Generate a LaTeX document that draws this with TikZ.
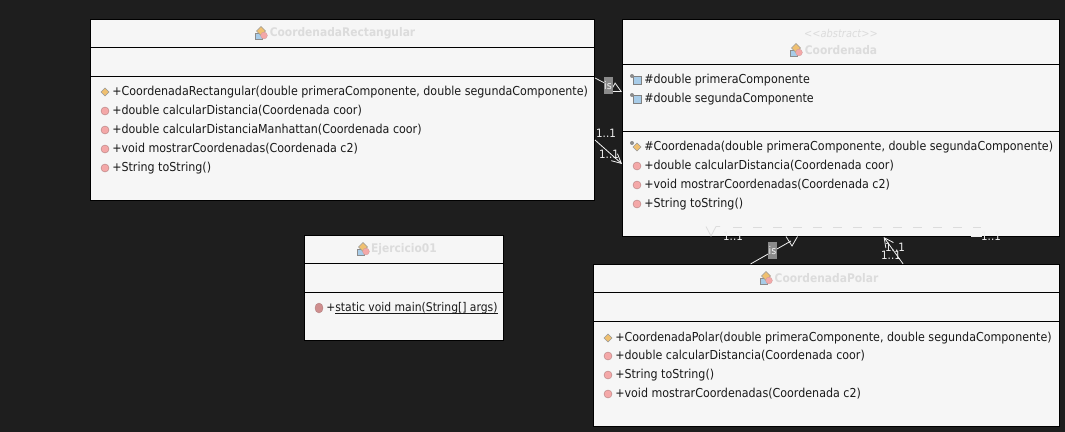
\documentclass[tikz,border=0pt]{standalone}
\usepackage{fontspec}
\usetikzlibrary{arrows.meta,calc}
\setmainfont[FakeStretch=0.9]{DejaVu Sans}
\definecolor{bgdark}{HTML}{1E1E1E}
\definecolor{boxfill}{HTML}{F6F6F6}
\definecolor{titlegrey}{HTML}{DCDCDC}
\definecolor{isgrey}{HTML}{8A8A8A}
\definecolor{linewhite}{HTML}{F0F0F0}
\definecolor{icoorange}{HTML}{F0C070}
\definecolor{icopink}{HTML}{F4A8A8}
\definecolor{icoblue}{HTML}{A8CCE8}
\newcommand{\classicon}[1]{%
  \fill[icoblue,draw=black!45,line width=.3pt] ($(#1)+(-6,0)$) rectangle ($(#1)+(1,6)$);
  \fill[icoorange,draw=black!40,line width=.3pt] ($(#1)+(-4.5,-2)$) -- ($(#1)+(0,-6.5)$) -- ($(#1)+(4.5,-2)$) -- ($(#1)+(0,2.5)$) -- cycle;
  \fill[icopink,draw=red!50!black!40,line width=.2pt] ($(#1)+(3,2.5)$) circle[radius=3.4];
}
\newcommand{\methodicon}[1]{\fill[icopink,draw=red!40!black!50,line width=.3pt] (#1) circle[radius=4];}
\newcommand{\ctoricon}[1]{\fill[icoorange,draw=black!40,line width=.3pt] ($(#1)+(-4,0)$) -- ($(#1)+(0,-4)$) -- ($(#1)+(4,0)$) -- ($(#1)+(0,4)$) -- cycle;}
\newcommand{\fieldicon}[1]{%
  \fill[icoblue,draw=black!50,line width=.3pt] ($(#1)+(-2,-3.5)$) rectangle ($(#1)+(6,4)$);
  \fill[black!45] ($(#1)+(-3,-4)$) circle[radius=2];
}
\tikzset{
  x=0.75pt,y=-0.75pt,
  umlbox/.style 2 args={draw=black,fill=boxfill,line width=.75pt,inner sep=0pt,minimum width=#1*0.75pt,minimum height=#2*0.75pt},
  classtitle/.style={text=titlegrey,font=\bfseries\fontsize{8.9}{10}\selectfont,inner sep=0pt},
  stereo/.style={text=titlegrey,font=\itshape\fontsize{8.2}{10}\selectfont,inner sep=0pt},
  member/.style={anchor=west,inner sep=0pt,text=black!90,font=\fontsize{9.25}{11}\selectfont},
  divider/.style={draw=black,line width=.75pt},
  conn/.style={draw=linewhite,line width=.6pt},
  ghost/.style={draw=titlegrey,line width=.6pt},
  gen/.style={conn,-{Triangle[open,length=8pt,width=8pt,fill=none]}},
  assoc/.style={conn,-{Straight Barb[length=7pt,width=7pt]}},
  islabel/.style={fill=isgrey,text=linewhite,inner sep=0pt,minimum width=6.75pt,minimum height=12.75pt,font=\fontsize{8}{9}\selectfont},
  mult/.style={text=linewhite,inner sep=0pt,font=\fontsize{8.6}{10}\selectfont},
}
\begin{document}
\begin{tikzpicture}
\useasboundingbox (0,0) rectangle (1065,432);
\fill[bgdark] (0,0) rectangle (1065,432);
% boxes
\node[umlbox={504}{181}] (rect) at (342.5,110) {};
\node[umlbox={437}{217}] (coord) at (841,128) {};
\node[umlbox={466}{162}] (polar) at (826.5,345.5) {};
\node[umlbox={199}{105}] (ej) at (404,288) {};
% dividers
\draw[divider] (90.5,47.5) -- (594.5,47.5) (90.5,76.5) -- (594.5,76.5);
\draw[divider] (622.5,64.5) -- (1059.5,64.5) (622.5,131.5) -- (1059.5,131.5);
\draw[divider] (593.5,292.5) -- (1059.5,292.5) (593.5,321.5) -- (1059.5,321.5);
\draw[divider] (304.5,263.5) -- (503.5,263.5) (304.5,292.5) -- (503.5,292.5);
% titles
\classicon{261,33}
\node[classtitle] (t1) at (342.5,33) {CoordenadaRectangular};
\node[stereo] (t2s) at (841,33) {{<}{<}abstract{>}{>}};
\classicon{796,50}
\node[classtitle] (t2) at (841,50) {Coordenada};
\classicon{766,278}
\node[classtitle] (t3) at (826.5,278) {CoordenadaPolar};
\classicon{363,249}
\node[classtitle] (t4) at (404,249) {Ejercicio01};
% Rectangular members
\ctoricon{105,92}
\node[member] (r1) at (112,92) {+CoordenadaRectangular(double primeraComponente, double segundaComponente)};
\methodicon{105,111}
\node[member] (r2) at (112,111) {+double calcularDistancia(Coordenada coor)};
\methodicon{105,130}
\node[member] (r3) at (112,130) {+double calcularDistanciaManhattan(Coordenada coor)};
\methodicon{105,149}
\node[member] (r4) at (112,149) {+void mostrarCoordenadas(Coordenada c2)};
\methodicon{105,168}
\node[member] (r5) at (112,168) {+String toString()};
% Coordenada members
\fieldicon{635,80}
\node[member] (c1) at (644,80) {\#double primeraComponente};
\fieldicon{635,99}
\node[member] (c2) at (644,99) {\#double segundaComponente};
\ctoricon{637,147}
\fill[black!45] (632,143) circle[radius=2];
\node[member] (c3) at (644,147) {\#Coordenada(double primeraComponente, double segundaComponente)};
\methodicon{637,166}
\node[member] (c4) at (644,166) {+double calcularDistancia(Coordenada coor)};
\methodicon{637,185}
\node[member] (c5) at (644,185) {+void mostrarCoordenadas(Coordenada c2)};
\methodicon{637,204}
\node[member] (c6) at (644,204) {+String toString()};
% Polar members
\ctoricon{608,338}
\node[member] (p1) at (615,338) {+CoordenadaPolar(double primeraComponente, double segundaComponente)};
\methodicon{608,356}
\node[member] (p2) at (615,356) {+double calcularDistancia(Coordenada coor)};
\methodicon{608,375}
\node[member] (p3) at (615,375) {+String toString()};
\methodicon{608,394}
\node[member] (p4) at (615,394) {+void mostrarCoordenadas(Coordenada c2)};
% Ejercicio member
\fill[icopink!85!black,draw=red!40!black!50,line width=.3pt] (319,308) ellipse[x radius=4,y radius=5];
\node[member,font=\fontsize{9}{11}\selectfont] (e1) at (326,309) {+\underline{\smash{static void main(String[] args)}}};
% connectors
\draw[gen] ([yshift=24pt]rect.east) -- ([yshift=27pt]coord.west);
\node[islabel] (is1) at (608,85.5) {is};
\draw[assoc] ([yshift=-22.5pt]rect.east) -- ([yshift=-27pt]coord.west);
\node[mult] (m1) at (606,133) {1..1};
\node[mult] (m2) at (609,154) {1..1};
\coordinate (genend) at (791,241);
\draw[conn] ([xshift=-57pt]polar.north) -- (genend);
\draw[conn] (786,236.5) -- (792,246) -- (797.5,236.5);
\node[islabel] (is2) at (772.5,250.5) {is};
\draw[assoc] ([xshift=57.5pt]polar.north) -- ([xshift=32pt]coord.south);
\node[mult] (m3) at (895,247.5) {1..1};
\node[mult] (m4) at (891,255) {1..1};
% pale dashed line across the bottom of Coordenada
\draw[ghost,dash pattern=on 7pt off 8pt] ([xshift=-81pt,yshift=7.5pt]coord.south) -- ([xshift=105pt,yshift=7.5pt]coord.south);
\draw[ghost] (706,226.5) -- (711,236) -- (716,226.5) -- (720,226.5);
\draw[conn] (971,236.5) -- (982,236.5);
\node[mult] (m5) at (733,236) {1..1};
\node[mult] (m6) at (991,236) {1..1};
\end{tikzpicture}
\end{document}
